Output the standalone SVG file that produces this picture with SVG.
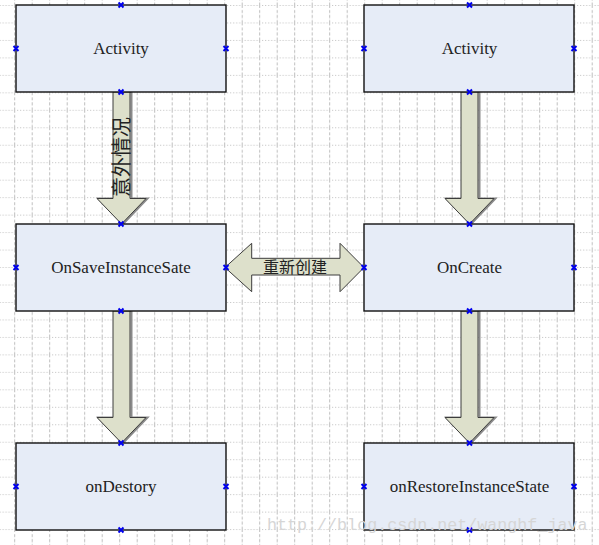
<svg xmlns="http://www.w3.org/2000/svg" width="599" height="545" viewBox="0 0 599 545">
  <defs>
    <pattern id="grid" patternUnits="userSpaceOnUse" x="14.2" y="5" width="17.5" height="17.47">
      <line x1="0.5" y1="0" x2="0.5" y2="17.47" stroke="#bdbdbd" stroke-width="1" stroke-dasharray="3 2"/>
      <line x1="0" y1="0.5" x2="17.5" y2="0.5" stroke="#bdbdbd" stroke-width="1" stroke-dasharray="1 2"/>
    </pattern>
    <path id="cp" d="M-2.5,-2.5 L2.5,2.5 M2.5,-2.5 L-2.5,2.5" stroke="#0000ee" stroke-width="2" fill="none"/>
    <path id="downArrow" d="M-8.5,0 L8.5,0 L8.5,106.5 L24.5,106.5 L0,132 L-24.5,106.5 L-8.5,106.5 Z"/>
  </defs>
  <style>
    .box { fill: #e6ecf7; stroke: #111; stroke-width: 1.4; }
    .lbl { font-family: "Liberation Serif", serif; font-size: 17px; fill: #222; text-anchor: middle; }
    .arrow { fill: #dde0cb; stroke: #3c3c3c; stroke-width: 1; }
    .shadow { fill: none; stroke: #8a8a8a; stroke-width: 2; }
    .cjk { font-family: "Noto Sans CJK SC", "Liberation Serif", sans-serif; fill: #222; }
    .wm { font-family: "Liberation Mono", monospace; font-size: 16.7px; fill: #d6d6d6; }
  </style>
  <rect x="0" y="0" width="599" height="545" fill="#ffffff"/>
  <rect x="0" y="0" width="599" height="545" fill="url(#grid)"/>

  <g id="connectors">
    <g transform="translate(121.5,92)">
      <use href="#downArrow" class="shadow" transform="translate(1.5,0)"/>
      <use href="#downArrow" class="arrow"/>
    </g>
    <g transform="translate(469.5,92)">
      <use href="#downArrow" class="shadow" transform="translate(1.5,0)"/>
      <use href="#downArrow" class="arrow"/>
    </g>
    <g transform="translate(121.5,311)">
      <use href="#downArrow" class="shadow" transform="translate(1.5,0)"/>
      <use href="#downArrow" class="arrow"/>
    </g>
    <g transform="translate(469.5,311)">
      <use href="#downArrow" class="shadow" transform="translate(1.5,0)"/>
      <use href="#downArrow" class="arrow"/>
    </g>
    <path class="arrow" d="M225,267.5 L251.7,243.3 L251.7,258.3 L340,258.3 L340,243.3 L364,267.5 L340,291.7 L340,275 L251.7,275 L251.7,291.7 Z"/>
    <text class="cjk" x="120" y="157" font-size="20" text-anchor="middle" dominant-baseline="central" transform="rotate(-90 120 157)">意外情况</text>
    <text class="cjk" x="295" y="273" font-size="16" text-anchor="middle">重新创建</text>
  </g>

  <g id="activity1">
    <rect class="box" x="16" y="5" width="210" height="87"/>
    <text class="lbl" x="121" y="54">Activity</text>
  </g>
  <g id="activity2">
    <rect class="box" x="364" y="5" width="210" height="87"/>
    <text class="lbl" x="469.5" y="54">Activity</text>
  </g>
  <g id="onSaveInstanceSate">
    <rect class="box" x="16" y="224" width="210" height="87"/>
    <text class="lbl" x="121" y="273">OnSaveInstanceSate</text>
  </g>
  <g id="onCreate">
    <rect class="box" x="364" y="224" width="210" height="87"/>
    <text class="lbl" x="469.5" y="273">OnCreate</text>
  </g>
  <g id="onDestory">
    <rect class="box" x="16" y="443" width="210" height="87"/>
    <text class="lbl" x="121" y="492">onDestory</text>
  </g>
  <g id="onRestoreInstanceState">
    <rect class="box" x="364" y="443" width="210" height="87"/>
    <text class="lbl" x="469.5" y="492">onRestoreInstanceState</text>
  </g>

  <g id="connection-points">
    <use href="#cp" x="121" y="5"/><use href="#cp" x="16" y="48.5"/><use href="#cp" x="226" y="48.5"/><use href="#cp" x="121" y="92"/>
    <use href="#cp" x="469.5" y="5"/><use href="#cp" x="364" y="48.5"/><use href="#cp" x="574" y="48.5"/><use href="#cp" x="469.5" y="92"/>
    <use href="#cp" x="121" y="224"/><use href="#cp" x="16" y="267.5"/><use href="#cp" x="226" y="267.5"/><use href="#cp" x="121" y="311"/>
    <use href="#cp" x="469.5" y="224"/><use href="#cp" x="364" y="267.5"/><use href="#cp" x="574" y="267.5"/><use href="#cp" x="469.5" y="311"/>
    <use href="#cp" x="121" y="443"/><use href="#cp" x="16" y="486.5"/><use href="#cp" x="226" y="486.5"/><use href="#cp" x="121" y="530"/>
    <use href="#cp" x="469.5" y="443"/><use href="#cp" x="364" y="486.5"/><use href="#cp" x="574" y="486.5"/><use href="#cp" x="469.5" y="530"/>
  </g>

  <text class="wm" x="267" y="530">http://blog.csdn.net/wanghf_java</text>
</svg>
